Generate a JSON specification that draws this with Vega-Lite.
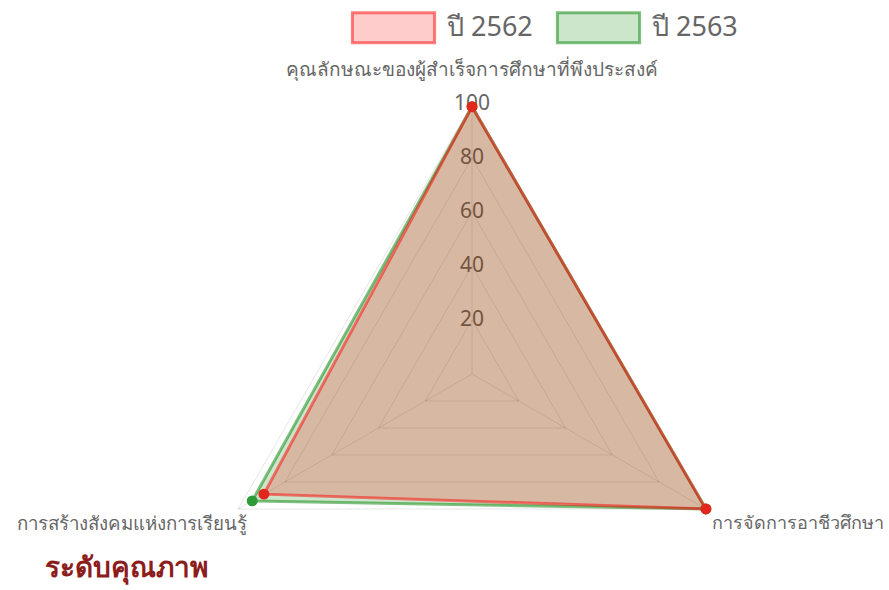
{
  "$schema": "https://vega.github.io/schema/vega-lite/v6.json",
  "width": 889,
  "height": 590,
  "padding": 0,
  "autosize": {"type": "none"},
  "background": "white",
  "config": {"view": {"stroke": null}, "font": "Noto Sans"},
  "title": {"text": "ระดับคุณภาพ", "orient": "bottom", "anchor": "start", "offset": -35, "dx": 45, "fontSize": 28, "fontWeight": "bold", "color": "#8c1d1d", "font": "Noto Sans"},
  "datasets": {
    "scores": [
      {"year": "ปี 2563", "idx": 0, "value": 99},
      {"year": "ปี 2563", "idx": 1, "value": 100},
      {"year": "ปี 2563", "idx": 2, "value": 94},
      {"year": "ปี 2562", "idx": 0, "value": 99},
      {"year": "ปี 2562", "idx": 1, "value": 100},
      {"year": "ปี 2562", "idx": 2, "value": 89}
    ],
    "grid": [
      {"level": 20, "idx": 0}, {"level": 20, "idx": 1}, {"level": 20, "idx": 2},
      {"level": 40, "idx": 0}, {"level": 40, "idx": 1}, {"level": 40, "idx": 2},
      {"level": 60, "idx": 0}, {"level": 60, "idx": 1}, {"level": 60, "idx": 2},
      {"level": 80, "idx": 0}, {"level": 80, "idx": 1}, {"level": 80, "idx": 2},
      {"level": 100, "idx": 0}, {"level": 100, "idx": 1}, {"level": 100, "idx": 2}
    ],
    "axes": [
      {"idx": 0, "label": "คุณลักษณะของผู้สำเร็จการศึกษาที่พึงประสงค์", "level": 100},
      {"idx": 1, "label": "การจัดการอาชีวศึกษา", "level": 100},
      {"idx": 2, "label": "การสร้างสังคมแห่งการเรียนรู้", "level": 100}
    ]
  },
  "encoding": {
    "x": {"field": "x", "type": "quantitative", "scale": {"domain": [-174.8, 154.4], "nice": false, "zero": false}, "axis": null},
    "y": {"field": "y", "type": "quantitative", "scale": {"domain": [-80, 138.5], "nice": false, "zero": false}, "axis": null}
  },
  "layer": [
    {
      "data": {"name": "grid"},
      "transform": [
        {"calculate": "datum.level * sin(datum.idx * 2 * PI / 3)", "as": "x"},
        {"calculate": "datum.level * cos(datum.idx * 2 * PI / 3)", "as": "y"}
      ],
      "mark": {"type": "line", "interpolate": "linear-closed", "stroke": "rgba(0,0,0,0.1)", "strokeWidth": 1},
      "encoding": {"detail": {"field": "level"}, "order": {"field": "idx"}}
    },
    {
      "data": {"name": "axes"},
      "transform": [
        {"calculate": "datum.level * sin(datum.idx * 2 * PI / 3)", "as": "x"},
        {"calculate": "datum.level * cos(datum.idx * 2 * PI / 3)", "as": "y"}
      ],
      "mark": {"type": "rule", "stroke": "rgba(0,0,0,0.1)", "strokeWidth": 1},
      "encoding": {"x2": {"datum": 0}, "y2": {"datum": 0}}
    },
    {
      "data": {"name": "grid"},
      "transform": [
        {"filter": "datum.idx == 0"},
        {"calculate": "datum.level * sin(datum.idx * 2 * PI / 3)", "as": "x"},
        {"calculate": "datum.level * cos(datum.idx * 2 * PI / 3)", "as": "y"}
      ],
      "mark": {"type": "text", "fontSize": 21, "color": "#666", "baseline": "middle", "align": "center"},
      "encoding": {"text": {"field": "level"}}
    },
    {
      "data": {"name": "scores"},
      "transform": [
        {"calculate": "datum.value * sin(datum.idx * 2 * PI / 3)", "as": "x"},
        {"calculate": "datum.value * cos(datum.idx * 2 * PI / 3)", "as": "y"}
      ],
      "mark": {"type": "line", "interpolate": "linear-closed", "strokeWidth": 3},
      "encoding": {
        "order": {"field": "idx"},
        "fill": {
          "field": "year", "type": "nominal",
          "scale": {"domain": ["ปี 2562", "ปี 2563"], "range": ["rgba(255,0,0,0.2)", "rgba(0,128,0,0.2)"]},
          "legend": {"title": null, "orient": "none", "legendX": 362, "legendY": -4, "direction": "horizontal", "symbolType": "M-1.37,-0.5H1.37V0.5H-1.37Z", "symbolSize": 3600, "symbolStrokeWidth": 3, "labelFontSize": 27, "labelColor": "#666", "labelOffset": 22, "columnPadding": 18, "padding": 0}
        },
        "stroke": {
          "field": "year", "type": "nominal",
          "scale": {"domain": ["ปี 2562", "ปี 2563"], "range": ["rgba(255,0,0,0.5)", "rgba(0,128,0,0.5)"]},
          "legend": {"title": null, "orient": "none", "legendX": 362, "legendY": -4, "direction": "horizontal", "symbolType": "M-1.37,-0.5H1.37V0.5H-1.37Z", "symbolSize": 3600, "symbolStrokeWidth": 3, "labelFontSize": 27, "labelColor": "#666", "labelOffset": 22, "columnPadding": 18, "padding": 0}
        }
      }
    },
    {
      "data": {"name": "scores"},
      "transform": [
        {"calculate": "datum.value * sin(datum.idx * 2 * PI / 3)", "as": "x"},
        {"calculate": "datum.value * cos(datum.idx * 2 * PI / 3)", "as": "y"}
      ],
      "mark": {"type": "point", "filled": true, "opacity": 1, "size": 120, "shape": "circle"},
      "encoding": {
        "color": {"field": "year", "type": "nominal", "scale": {"domain": ["ปี 2562", "ปี 2563"], "range": ["#e3261d", "#2f9a38"]}, "legend": null}
      }
    },
    {
      "data": {"name": "axes"},
      "transform": [
        {"filter": "datum.idx == 0"},
        {"calculate": "datum.level * sin(datum.idx * 2 * PI / 3)", "as": "x"},
        {"calculate": "datum.level * cos(datum.idx * 2 * PI / 3)", "as": "y"}
      ],
      "mark": {"type": "text", "fontSize": 19, "color": "#666", "align": "center", "baseline": "middle", "dy": -34},
      "encoding": {"text": {"field": "label"}}
    },
    {
      "data": {"name": "axes"},
      "transform": [
        {"filter": "datum.idx == 1"},
        {"calculate": "datum.level * sin(datum.idx * 2 * PI / 3)", "as": "x"},
        {"calculate": "datum.level * cos(datum.idx * 2 * PI / 3)", "as": "y"}
      ],
      "mark": {"type": "text", "fontSize": 18, "color": "#666", "align": "left", "baseline": "middle", "dx": 6, "dy": 15},
      "encoding": {"text": {"field": "label"}}
    },
    {
      "data": {"name": "axes"},
      "transform": [
        {"filter": "datum.idx == 2"},
        {"calculate": "datum.level * sin(datum.idx * 2 * PI / 3)", "as": "x"},
        {"calculate": "datum.level * cos(datum.idx * 2 * PI / 3)", "as": "y"}
      ],
      "mark": {"type": "text", "fontSize": 18.7, "color": "#666", "align": "right", "baseline": "middle", "dx": 9, "dy": 15},
      "encoding": {"text": {"field": "label"}}
    }
  ]
}
